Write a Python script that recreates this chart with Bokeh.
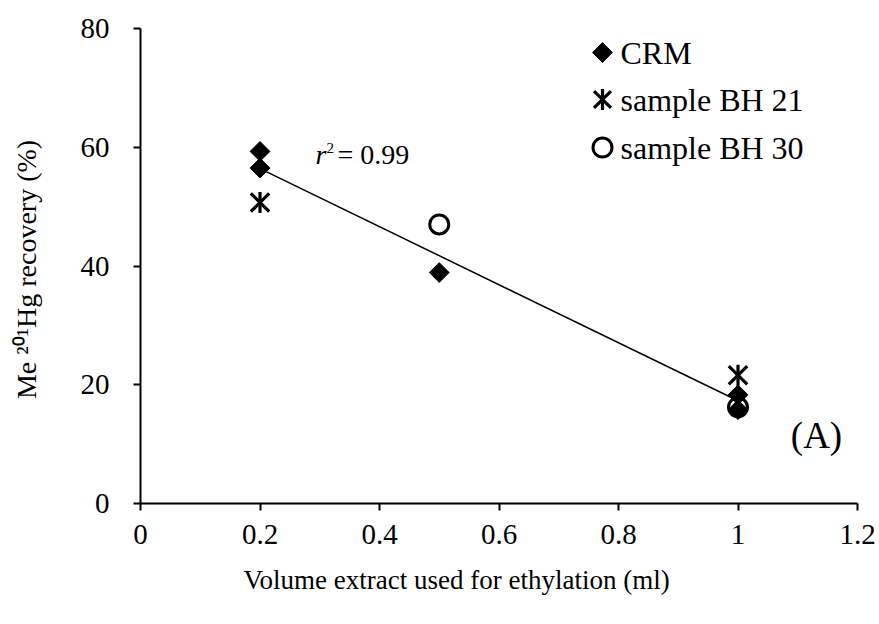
import numpy as np
from bokeh.plotting import figure
from bokeh.models import Range1d, Label, FixedTicker, Title
from bokeh.embed import file_html
from bokeh.resources import INLINE

# Volume of extract used for ethylation (ml) vs. Me201Hg recovery (%)
crm_x = [0.2, 0.2, 0.5, 1.0, 1.0]
crm_y = [59.3, 56.5, 38.9, 18.3, 15.8]
bh21_x = [0.2, 1.0]
bh21_y = [50.7, 21.6]
bh30_x = [0.5, 1.0]
bh30_y = [47.0, 16.2]

# linear fit drawn over the measured range
fit_x = [0.2, 1.0]
fit_y = [56.4, 17.3]
r2_value = "0.99"

series_names = ["CRM", "sample BH 21", "sample BH 30"]

x_ticks = [0, 0.2, 0.4, 0.6, 0.8, 1.0, 1.2]
x_tick_labels = ["0", "0.2", "0.4", "0.6", "0.8", "1", "1.2"]
y_ticks = [0, 20, 40, 60, 80]

SERIF = "Liberation Serif"
INK = "black"

# frame geometry (pixels)
W, H = 879, 624
LEFT, RIGHT, TOP, BOTTOM = 140, 22, 28, 121
X0, X1, Y0, Y1 = 0, 1.2, 0, 80
frame_w = W - LEFT - RIGHT
frame_h = H - TOP - BOTTOM


def dx(px):
    """canvas x pixel -> data x"""
    return X0 + (px - LEFT) / frame_w * (X1 - X0)


def dy(py):
    """canvas y pixel -> data y"""
    return Y0 + (H - BOTTOM - py) / frame_h * (Y1 - Y0)


p = figure(width=W, height=H,
           x_range=Range1d(X0, X1), y_range=Range1d(Y0, Y1),
           output_backend="svg", toolbar_location=None,
           min_border_left=LEFT, min_border_right=RIGHT,
           min_border_top=TOP, min_border_bottom=BOTTOM)
p.outline_line_color = None
p.xgrid.visible = False
p.ygrid.visible = False
p.background_fill_color = "white"
p.border_fill_color = "white"

for ax in (p.xaxis[0], p.yaxis[0]):
    ax.axis_line_width = 2
    ax.axis_line_color = INK
    ax.major_tick_line_width = 2
    ax.major_tick_line_color = INK
    ax.major_tick_out = 7
    ax.major_tick_in = 0
    ax.minor_tick_line_color = None
    ax.major_label_text_font = SERIF
    ax.major_label_text_font_size = "29px"
    ax.major_label_text_color = INK

p.xaxis.ticker = FixedTicker(ticks=x_ticks)
p.xaxis.major_label_overrides = {t: s for t, s in zip(x_ticks, x_tick_labels)}
p.xaxis.major_label_standoff = 14

p.yaxis.ticker = FixedTicker(ticks=y_ticks)
p.yaxis.major_label_standoff = 24
p.yaxis.axis_label = "Me \u00b2\u2070\u00b9Hg  recovery (%)"
p.yaxis.axis_label_text_font = SERIF
p.yaxis.axis_label_text_font_style = "normal"
p.yaxis.axis_label_text_font_size = "28px"
p.yaxis.axis_label_text_color = INK
p.yaxis.axis_label_standoff = 36

# x-axis title, set slightly left of the frame centre
p.add_layout(Title(text="Volume extract used for ethylation (ml)",
                   text_font=SERIF, text_font_size="27px",
                   text_font_style="normal", text_color=INK,
                   align="left", offset=103, standoff=33), "below")


def label(**kw):
    kw.setdefault("text_font", SERIF)
    kw.setdefault("text_color", INK)
    kw.setdefault("text_baseline", "middle")
    kw.setdefault("text_align", "left")
    p.add_layout(Label(**kw))


# regression line
p.line(fit_x, fit_y, line_color=INK, line_width=1.5)

# data series
DIAMOND = dict(marker="square", size=14, angle=np.pi / 4,
               fill_color=INK, line_color=INK, line_width=1)
STAR_X = dict(marker="x", size=26, line_color=INK, line_width=3.2)
STAR_BAR = dict(marker="dash", size=21, angle=np.pi / 2,
                line_color=INK, line_width=3.2)
RING = dict(marker="circle", size=19, fill_color=None,
            line_color=INK, line_width=3)

p.scatter(crm_x, crm_y, **DIAMOND)
p.scatter(bh21_x, bh21_y, **STAR_X)
p.scatter(bh21_x, bh21_y, **STAR_BAR)
p.scatter(bh30_x, bh30_y, **RING)

# legend (symbol column + label column, one row per series)
leg_sym_x = dx(602)
leg_txt_x = dx(620)
leg_rows = [52, 99, 147]
leg_styles = [[DIAMOND], [STAR_X, STAR_BAR], [RING]]
for name, row, styles in zip(series_names, leg_rows, leg_styles):
    for st in styles:
        st = dict(st)
        if st["marker"] == "x":
            st["size"] = 24
        p.scatter([leg_sym_x], [dy(row)], **st)
    label(x=leg_txt_x, y=dy(row), text=name, text_font_size="32px")

# r^2 annotation
label(x=dx(315), y=dy(154), text="r", text_font_style="italic",
      text_font_size="28px")
label(x=dx(326), y=dy(147), text="2", text_font_size="15px")
label(x=dx(337), y=dy(154), text="= " + r2_value, text_font_size="28px")

# panel tag
label(x=dx(816), y=dy(435), text="(A)", text_font_size="37px",
      text_align="center")

open("out.html", "w").write(file_html(p, INLINE))
